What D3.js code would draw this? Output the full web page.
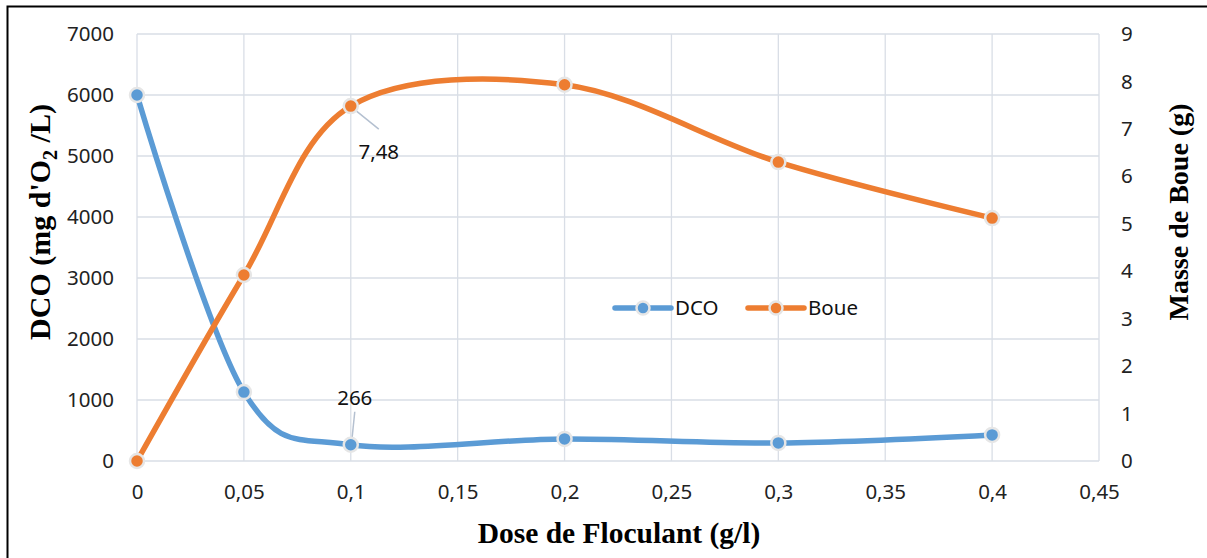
<!DOCTYPE html>
<html>
<head>
<meta charset="utf-8">
<script src="https://cdn.jsdelivr.net/npm/d3@7"></script>
<style>
  html, body { margin: 0; padding: 0; background: #fff; }
  svg { display: block; }
</style>
</head>
<body>
<svg id="chart" width="1207" height="558"></svg>
<script>
// data
var doses = [0, 0.05, 0.1, 0.2, 0.3, 0.4];
var dco = [6000, 1130, 266, 362, 297, 428];
var boue = [0, 3.92, 7.48, 7.93, 6.30, 5.12];
var xTicks = [0, 0.05, 0.1, 0.15, 0.2, 0.25, 0.3, 0.35, 0.4, 0.45];
var yLeftTicks = [0, 1000, 2000, 3000, 4000, 5000, 6000, 7000];
var yRightTicks = [0, 1, 2, 3, 4, 5, 6, 7, 8, 9];
var seriesNames = ['DCO', 'Boue'];

var BLUE = '#5B9BD5', ORANGE = '#ED7D31', GRID = '#D9DEE6';
var TICKFONT = '"Noto Sans", "Open Sans", sans-serif';
var TITLEFONT = '"Liberation Serif", "Times New Roman", serif';
var TS = 20.5;

var svg = d3.select('#chart');
var L = 137, R = 1099, T = 34, B = 461;

var x = d3.scaleLinear().domain([0, 0.45]).range([L, R]);
var yL = d3.scaleLinear().domain([0, 7000]).range([B, T]);
var yR = d3.scaleLinear().domain([0, 9]).range([B, T]);
function fmt(v) { return String(+v.toFixed(2)).replace('.', ','); }

// outer frame
svg.append('rect').attr('x', 7.5).attr('y', 6.5).attr('width', 1220).attr('height', 570)
  .attr('fill', 'none').attr('stroke', '#000').attr('stroke-width', 2);

// grid
var gGrid = svg.append('g');
gGrid.selectAll('line.v').data(xTicks).enter().append('line')
  .attr('x1', function (d) { return x(d); }).attr('x2', function (d) { return x(d); })
  .attr('y1', T).attr('y2', B).attr('stroke', GRID).attr('stroke-width', 1.3);
gGrid.selectAll('line.h').data(yLeftTicks).enter().append('line')
  .attr('x1', L).attr('x2', R)
  .attr('y1', function (d) { return yL(d); }).attr('y2', function (d) { return yL(d); })
  .attr('stroke', GRID).attr('stroke-width', 1.3);

// axes (text only, Excel style)
var axX = svg.append('g').attr('transform', 'translate(0,' + (B + 22) + ')')
  .call(d3.axisBottom(x).tickValues(xTicks).tickFormat(fmt).tickSize(0).tickPadding(12));
var axL = svg.append('g').attr('transform', 'translate(' + (L - 23) + ',0)')
  .call(d3.axisLeft(yL).tickValues(yLeftTicks).tickFormat(d3.format('d')).tickSize(0).tickPadding(0));
var axR = svg.append('g').attr('transform', 'translate(' + (R + 22) + ',0)')
  .call(d3.axisRight(yR).tickValues(yRightTicks).tickFormat(d3.format('d')).tickSize(0).tickPadding(0));
[axX, axL, axR].forEach(function (a) {
  a.select('.domain').remove();
  a.selectAll('text').attr('font-family', TICKFONT).attr('font-size', TS).attr('fill', '#222');
});
axX.selectAll('text').attr('dy', '0.2em');

// axis titles
svg.append('text').attr('x', 619).attr('y', 543).attr('text-anchor', 'middle')
  .attr('font-family', TITLEFONT).attr('font-weight', 'bold').attr('font-size', 29.5).text('Dose de Floculant (g/l)');
var lt = svg.append('text').attr('transform', 'translate(50,222) rotate(-90)').attr('text-anchor', 'middle')
  .attr('font-family', TITLEFONT).attr('font-weight', 'bold').attr('font-size', 30);
lt.append('tspan').text("DCO (mg d'O");
lt.append('tspan').attr('font-size', 20).attr('dy', 7).text('2');
lt.append('tspan').attr('dy', -7).text(' /L)');
svg.append('text').attr('transform', 'translate(1188,212) rotate(-90)').attr('text-anchor', 'middle')
  .attr('font-family', TITLEFONT).attr('font-weight', 'bold').attr('font-size', 28).text('Masse de Boue (g)');

// series
var curve = d3.curveCatmullRom.alpha(0);
var lineDco = d3.line().x(function (d, i) { return x(doses[i]); }).y(function (d) { return yL(d); }).curve(curve);
var lineBoue = d3.line().x(function (d, i) { return x(doses[i]); }).y(function (d) { return yR(d); }).curve(curve);

svg.append('path').attr('d', lineDco(dco)).attr('fill', 'none').attr('stroke', BLUE).attr('stroke-width', 5.5).attr('stroke-linecap', 'round');
svg.append('path').attr('d', lineBoue(boue)).attr('fill', 'none').attr('stroke', ORANGE).attr('stroke-width', 5.5).attr('stroke-linecap', 'round');

// data label leader lines
svg.append('line').attr('x1', x(0.1) + 2).attr('y1', yR(7.48) + 2).attr('x2', x(0.1) + 28).attr('y2', yR(7.48) + 23)
  .attr('stroke', '#B4C0D0').attr('stroke-width', 1.5);
svg.append('line').attr('x1', x(0.1) + 1).attr('y1', yL(266) - 4).attr('x2', x(0.1) + 4).attr('y2', yL(266) - 33)
  .attr('stroke', '#B4C0D0').attr('stroke-width', 1.5);

function markers(vals, ys, color) {
  svg.append('g').selectAll('circle').data(vals).enter().append('circle')
    .attr('cx', function (d, i) { return x(doses[i]); }).attr('cy', function (d) { return ys(d); })
    .attr('r', 7).attr('fill', color).attr('stroke', '#E6E6E6').attr('stroke-width', 2.5);
}
markers(dco, yL, BLUE);
markers(boue, yR, ORANGE);

svg.append('text').attr('x', x(0.1) + 28).attr('y', yR(7.48) + 53).attr('text-anchor', 'middle')
  .attr('font-family', TICKFONT).attr('font-size', TS).attr('fill', '#111').text(fmt(boue[2]));
svg.append('text').attr('x', x(0.1) + 4).attr('y', yL(266) - 40).attr('text-anchor', 'middle')
  .attr('font-family', TICKFONT).attr('font-size', TS).attr('fill', '#111').text(dco[2]);

// legend
var leg = svg.append('g').attr('transform', 'translate(615,308)');
[BLUE, ORANGE].forEach(function (c, i) {
  var g = leg.append('g').attr('transform', 'translate(' + (i * 133) + ',0)');
  g.append('line').attr('x1', 0).attr('x2', 56).attr('y1', 0).attr('y2', 0)
    .attr('stroke', c).attr('stroke-width', 5.5).attr('stroke-linecap', 'round');
  g.append('circle').attr('cx', 28).attr('cy', 0).attr('r', 6.5).attr('fill', c).attr('stroke', '#E6E6E6').attr('stroke-width', 2.5);
  g.append('text').attr('x', 60).attr('y', 0).attr('dy', '0.35em')
    .attr('font-family', TICKFONT).attr('font-size', TS).attr('fill', '#111').text(seriesNames[i]);
});
</script>
</body>
</html>
